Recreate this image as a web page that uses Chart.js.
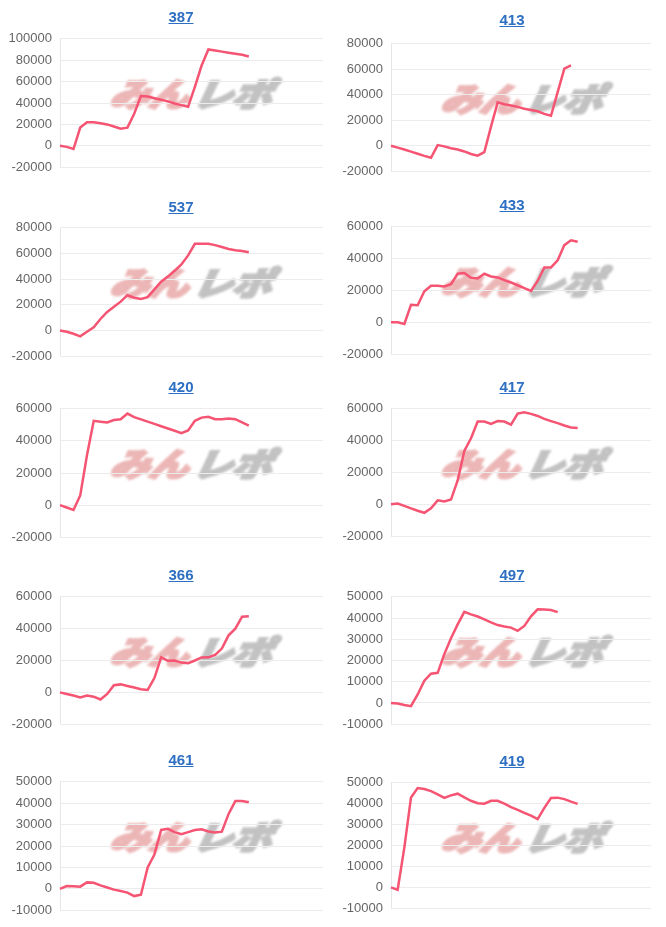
<!DOCTYPE html>
<html>
<head>
<meta charset="utf-8">
<script src="https://cdn.jsdelivr.net/npm/chart.js@4/dist/chart.umd.min.js"></script>
<style>
  body { margin: 0; width: 666px; height: 927px; overflow: hidden; background: #fff; position: relative; font-family: "Liberation Sans", Arial, sans-serif; }
  canvas { position: absolute; }
  .title { position: absolute; width: 120px; text-align: center; font-size: 15px; font-weight: bold; color: #2d6fc2; text-decoration: underline; line-height: 18px; cursor: pointer; }
  .mark { position: absolute; width: 169px; height: 29px; line-height: 29px; white-space: nowrap; font-family: "Noto Sans CJK JP", sans-serif; font-weight: 900; font-style: italic; font-size: 33px; letter-spacing: -1px; transform-origin: left top; transform: scaleX(1.22) skewX(-8deg); filter: blur(0.9px); }
  .mark .a { color: rgb(236, 182, 182); -webkit-text-stroke: 2.2px rgb(236, 182, 182); }
  .mark .b { color: rgb(194, 194, 194); -webkit-text-stroke: 2.2px rgb(194, 194, 194); margin-left: 4px; }
</style>
</head>
<body>
<script>
// x axis: 40 slots, series stop where the data stops
const slots = [];
for (let i = 1; i <= 40; i++) slots.push(String(i));

const titles = ["387", "413", "537", "433", "420", "417", "366", "497", "461", "419"];

const s387 = [0, -1000, -3000, 17000, 22000, 22000, 21000, 20000, 18000, 16000, 17000, 30000, 46500, 46000, 44500, 43000, 41500, 39500, 38000, 36500, 55000, 75000, 90000, 89000, 88000, 87000, 86000, 85000, 83500];
const s413 = [0, -1500, -3000, -4600, -6300, -8000, -9500, 500, -500, -2000, -3000, -4500, -6500, -7800, -5000, 15000, 34000, 32500, 31500, 30500, 29000, 28000, 27000, 25000, 23500, 42000, 60500, 63000];
const s537 = [0, -1000, -2500, -4500, -1000, 2500, 9000, 14500, 18500, 22500, 27500, 25500, 24500, 26000, 32000, 38000, 42000, 46500, 51500, 58500, 67500, 67500, 67500, 66500, 65000, 63500, 62500, 62000, 61000];
const s433 = [0, 0, -1000, 11000, 10700, 19500, 23000, 23000, 22500, 24000, 30500, 31000, 28000, 27500, 30500, 28800, 28200, 26500, 25000, 23300, 21500, 19700, 26000, 34500, 34500, 39000, 48500, 51500, 50600];
const s420 = [0, -1500, -3000, 6000, 31000, 52500, 52000, 51500, 53000, 53500, 57000, 54800, 53400, 52000, 50600, 49100, 47700, 46300, 44800, 46500, 52500, 54500, 55000, 53500, 53500, 54000, 53500, 51500, 49500];
const s417 = [0, 500, -1000, -2500, -4000, -5300, -2500, 2500, 1800, 3000, 15000, 33500, 41500, 52000, 52000, 50500, 52300, 52000, 50000, 57000, 57800, 56800, 55500, 53700, 52300, 51000, 49500, 48300, 48000];
const s366 = [0, -1000, -2000, -3200, -2000, -2700, -4500, -1000, 4500, 5000, 4000, 3000, 2000, 1500, 9000, 22000, 19800, 20000, 18700, 18300, 20000, 21900, 22000, 23500, 27500, 35800, 40000, 47500, 47800];
const s497 = [0, -300, -1000, -1500, 4000, 10500, 13800, 14200, 23000, 30500, 37000, 42900, 41700, 40700, 39400, 38000, 36700, 36000, 35500, 34000, 36300, 40800, 44100, 44000, 43800, 42800];
const s461 = [0, 1300, 1200, 1000, 3000, 2800, 1600, 600, -400, -1000, -1800, -3400, -2800, 10000, 16000, 27500, 28000, 26500, 25500, 26500, 27500, 27800, 26800, 26300, 26700, 35000, 41000, 41000, 40400];
const s419 = [0, -1200, 19000, 43000, 47500, 47000, 46000, 44500, 42800, 44000, 44800, 43000, 41400, 40200, 40000, 41400, 41400, 40000, 38400, 37000, 35600, 34300, 32600, 38000, 42700, 42900, 42200, 41000, 39900];

const series = [s387, s413, s537, s433, s420, s417, s366, s497, s461, s419];

const yMin = [-20000, -20000, -20000, -20000, -20000, -20000, -20000, -10000, -10000, -10000];
const yMax = [100000, 80000, 80000, 60000, 60000, 60000, 60000, 50000, 50000, 50000];
const yStep = [20000, 20000, 20000, 20000, 20000, 20000, 20000, 10000, 10000, 10000];

// layout (pixels)
const colLeft = [0, 333];
const axisWidth = [60, 58];
const rightPad = [10, 15];
const plotTop = [35, 40, 224, 223, 405, 405, 593, 593, 778, 779];
const plotBottom = [171, 175, 360, 358, 541, 540, 728, 728, 914, 912];
const titleMid = [17, 20, 207, 205, 387, 387, 575, 575, 760, 761];
const titleX = [181, 512];
const PAD = 12;

function addTitle(i) {
  const col = i % 2;
  const a = document.createElement("a");
  a.className = "title";
  a.textContent = titles[i];
  a.style.left = (titleX[col] - 60) + "px";
  a.style.top = (titleMid[i] - 9) + "px";
  document.body.appendChild(a);
}

function addMark(i) {
  const col = i % 2;
  const m = document.createElement("div");
  m.className = "mark";
  m.innerHTML = '<span class="a">みん</span><span class="b">レポ</span>';
  m.style.left = (colLeft[col] + axisWidth[col] + 53) + "px";
  m.style.top = (plotTop[i] + 44) + "px";
  document.body.appendChild(m);
}

function addChart(i) {
  const col = i % 2;
  const canvas = document.createElement("canvas");
  canvas.width = 333;
  canvas.height = plotBottom[i] - plotTop[i] + PAD * 2;
  canvas.style.left = colLeft[col] + "px";
  canvas.style.top = (plotTop[i] - PAD) + "px";
  document.body.appendChild(canvas);

  new Chart(canvas.getContext("2d"), {
    type: "line",
    data: {
      labels: slots,
      datasets: [{
        data: series[i],
        borderColor: "rgb(245, 84, 114)",
        borderWidth: 2.5,
        pointRadius: 0,
        tension: 0,
        fill: false
      }]
    },
    options: {
      responsive: false,
      animation: false,
      layout: { padding: { top: PAD, bottom: PAD, left: 0, right: rightPad[col] } },
      plugins: { legend: { display: false }, tooltip: { enabled: false } },
      scales: {
        x: { display: false },
        y: {
          min: yMin[i],
          max: yMax[i],
          afterFit: axis => { axis.width = axisWidth[col]; },
          border: { display: true, color: "#e6e6e6" },
          grid: { color: "#ececec", drawTicks: false },
          ticks: {
            stepSize: yStep[i],
            padding: 8,
            color: "#666",
            font: { family: "'Liberation Sans', Arial, sans-serif", size: 13 },
            callback: v => String(v)
          }
        }
      }
    }
  });
}

for (let i = 0; i < series.length; i++) {
  addMark(i);
  addChart(i);
  addTitle(i);
}
</script>
</body>
</html>
